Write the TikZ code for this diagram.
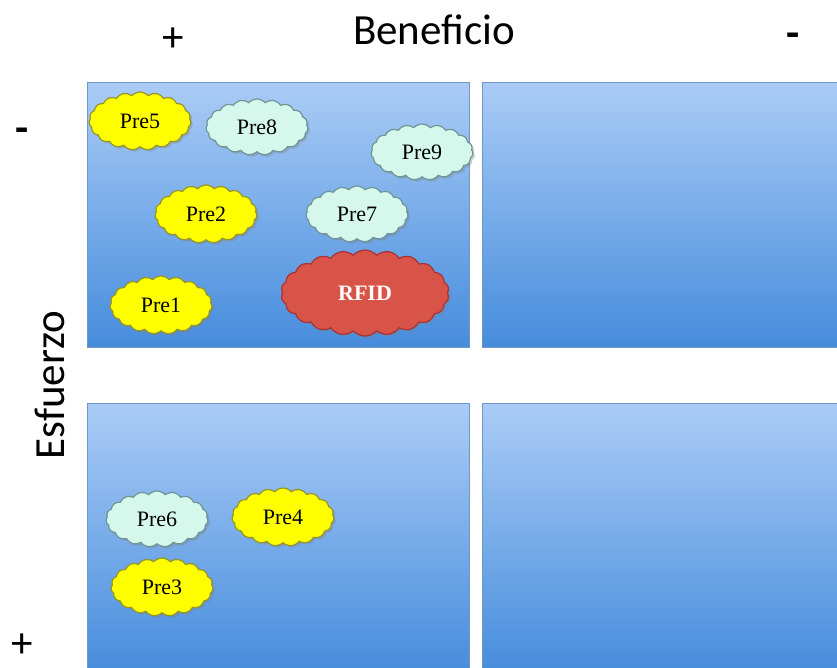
\documentclass[tikz,border=0pt]{standalone}
\usepackage{fontspec}
\setmainfont{Carlito}
\newfontfamily\cloudfont{Liberation Serif}
\usetikzlibrary{shapes.symbols,shadows}
\definecolor{boxtop}{RGB}{170,204,246}
\definecolor{boxbot}{RGB}{70,140,220}
\definecolor{boxline}{RGB}{110,150,200}
\definecolor{ylw}{RGB}{255,255,0}
\definecolor{ylwline}{RGB}{150,150,40}
\definecolor{cyn}{RGB}{214,248,236}
\definecolor{cynline}{RGB}{110,150,150}
\definecolor{rfid}{RGB}{216,84,72}
\definecolor{rfidline}{RGB}{170,50,50}
\tikzset{
  quad/.style={draw=boxline, line width=0.8pt, top color=boxtop, bottom color=boxbot, drop shadow={shadow xshift=1pt, shadow yshift=-1pt, opacity=0.3}},
  cl/.style={cloud, cloud puffs=19, cloud puff arc=95, cloud ignores aspect, inner sep=0pt, line width=1.2pt, font=\cloudfont\fontsize{22}{22}\selectfont, drop shadow={shadow xshift=2pt, shadow yshift=-2pt, opacity=0.35}},
  yc/.style={cl, fill=ylw, draw=ylwline, minimum width=102pt, minimum height=58pt},
  cc/.style={cl, fill=cyn, draw=cynline, minimum width=102pt, minimum height=56pt},
  lbl/.style={font=\fontsize{43}{43}\selectfont, inner sep=0pt},
  minus/.style={font=\fontsize{43}{43}\selectfont\bfseries, inner sep=0pt}
}
\begin{document}
\begin{tikzpicture}[x=1pt,y=-1pt]
\useasboundingbox (0,0) rectangle (837,667);
\fill[white] (0,0) rectangle (837,667);
\begin{scope}
\clip (0,0) rectangle (837,667);
\node[quad, minimum width=382pt, minimum height=265pt, anchor=north west] (q1) at (87,82) {};
\node[quad, minimum width=370pt, minimum height=265pt, anchor=north west] (q2) at (482,82) {};
\node[quad, minimum width=382pt, minimum height=270pt, anchor=north west] (q3) at (87,403) {};
\node[quad, minimum width=370pt, minimum height=270pt, anchor=north west] (q4) at (482,403) {};
\end{scope}
\node[lbl] (bp) at (173,40) {+};
\node[lbl] (ben) at (434,30) {Beneficio};
\node[minus] (bm) at (793,40) {-};
\node[minus] (em) at (22,135) {-};
\node[lbl, rotate=90] (esf) at (50,385) {Esfuerzo};
\node[lbl] (ep) at (22,646) {+};
\node[yc] (pre5) at (140,121) {Pre5};
\node[cc] (pre8) at (257,127) {Pre8};
\node[cc] (pre9) at (422,152) {Pre9};
\node[yc] (pre2) at (206,214) {Pre2};
\node[cc] (pre7) at (357,214) {Pre7};
\node[cl, fill=rfid, draw=rfidline, minimum width=168pt, minimum height=86pt, text=white, font=\cloudfont\bfseries\fontsize{22}{22}\selectfont, cloud puffs=22] (rfid) at (365,293) {RFID};
\node[yc] (pre1) at (161,305) {Pre1};
\node[cc] (pre6) at (157,519) {Pre6};
\node[yc] (pre4) at (283,517) {Pre4};
\node[yc] (pre3) at (162,587) {Pre3};
\end{tikzpicture}
\end{document}
